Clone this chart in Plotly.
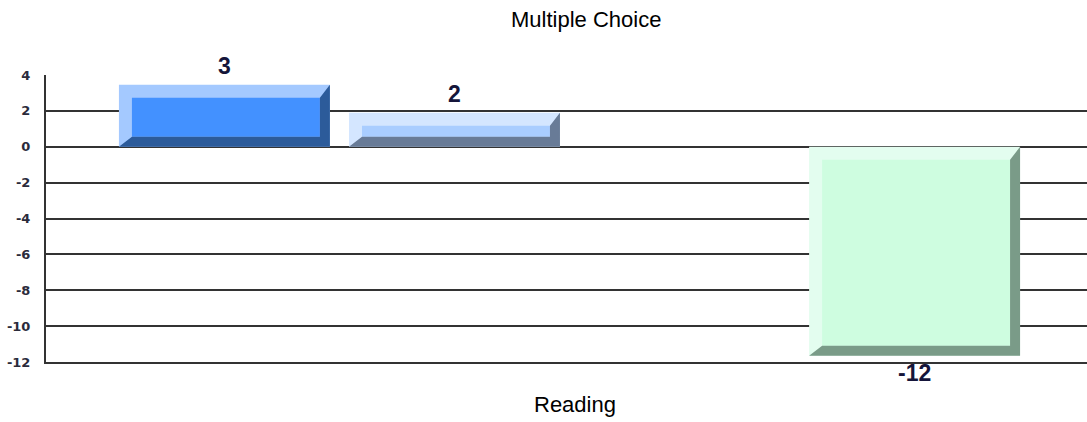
import plotly.graph_objects as go

# ---- data ----
category = "Reading"
series_names = ["Series 1", "Series 2", "Series 3", "Series 4"]
values = [3.45, 1.9, None, -11.65]
light_colors = ["#a4c9ff", "#d4e6ff", "#d4e6ff", "#e3fdef"]
face_colors = ["#4391ff", "#a9cdff", "#a9cdff", "#cefde0"]
dark_colors = ["#2c5b9a", "#687b97", "#687b97", "#7a9b88"]
y_ticks = [4, 2, 0, -2, -4, -6, -8, -10, -12]

# ---- layout constants ----
W, H = 1087, 422
ML, MR, MT, MB = 46, 0, 75, 60
YMIN, YMAX = -12, 4
BARGAP, GROUPGAP = 0.116, 0.083
PW = W - ML - MR
PH = H - MT - MB
px_x = 1.0 / PW               # data units per pixel (x range is 1 unit)
px_y = (YMAX - YMIN) / PH     # data units per pixel (y)
LIGHT_PX, DARK_PX = 13, 10
X_OFFSET_PX = 3

fig = go.Figure()
n = len(values)
slot = (1 - BARGAP) / n
shapes = []
annotations = []
for i, (name, v) in enumerate(zip(series_names, values)):
    fig.add_trace(go.Bar(
        x=[category], y=[v], name=name,
        marker=dict(color=light_colors[i], line=dict(width=0)),
        hoverinfo="skip",
    ))
    if v is None:
        continue
    c = -(1 - BARGAP) / 2 + slot * (i + 0.5)
    hw = slot * (1 - GROUPGAP) / 2
    x0, x1 = c - hw, c + hw
    ytop, ybot = max(v, 0), min(v, 0)
    bx, by = LIGHT_PX * px_x, LIGHT_PX * px_y
    dx, dy = DARK_PX * px_x, DARK_PX * px_y
    # inner face
    shapes.append(dict(type="rect", xref="x", yref="y", layer="above",
                       x0=x0 + bx, x1=x1 - dx, y0=ybot + dy, y1=ytop - by,
                       fillcolor=face_colors[i], line=dict(width=0)))
    # dark bottom / right bevel
    path = (f"M {x1},{ytop} L {x1},{ybot} L {x0},{ybot} "
            f"L {x0 + bx},{ybot + dy} L {x1 - dx},{ybot + dy} "
            f"L {x1 - dx},{ytop - by} Z")
    shapes.append(dict(type="path", xref="x", yref="y", layer="above",
                       path=path, fillcolor=dark_colors[i], line=dict(width=0)))
    # value label
    annotations.append(dict(
        x=c, y=v, xref="x", yref="y", text=str(round(v)), showarrow=False,
        yanchor="bottom" if v >= 0 else "top",
        yshift=4 if v >= 0 else -2,
        font=dict(family="Liberation Sans Narrow, Arial, Liberation Sans",
                  size=23, color="#15153a", weight="bold"),
    ))

annotations.append(dict(text="Multiple Choice", xref="paper", yref="paper",
                        x=(586 - ML) / PW, y=1, yshift=MT - 19, showarrow=False,
                        yanchor="middle",
                        font=dict(family="Arial, Liberation Sans", size=22, color="#000")))
annotations.append(dict(text=category, xref="paper", yref="paper",
                        x=(575 - ML) / PW, y=0, yshift=-(404 - (H - MB)), showarrow=False,
                        yanchor="middle",
                        font=dict(family="Arial, Liberation Sans", size=22, color="#000")))

xr0 = -0.5 - X_OFFSET_PX * px_x
fig.update_layout(
    width=W, height=H,
    margin=dict(l=ML, r=MR, t=MT, b=MB, autoexpand=False),
    paper_bgcolor="white", plot_bgcolor="white",
    barmode="group", bargap=BARGAP, bargroupgap=GROUPGAP,
    showlegend=False,
    shapes=shapes, annotations=annotations,
    xaxis=dict(showticklabels=False, showgrid=False, zeroline=False,
               showline=True, linecolor="#333", linewidth=1.5,
               range=[xr0, xr0 + 1], fixedrange=True, automargin=False),
    yaxis=dict(range=[YMIN, YMAX], tickvals=y_ticks,
               ticktext=[str(t) for t in y_ticks], automargin=False,
               showgrid=True, gridcolor="#333", gridwidth=1.5,
               zeroline=True, zerolinecolor="#333", zerolinewidth=1.5,
               showline=True, linecolor="#333", linewidth=2,
               mirror=False, ticks="", ticklabelstandoff=11,
               tickfont=dict(family="DejaVu Sans, Verdana", size=13,
                             color="#2b2b3b", weight="bold")),
)

fig.write_html("out.html", config={"displayModeBar": False},
               post_script="document.body.style.margin='0';")
